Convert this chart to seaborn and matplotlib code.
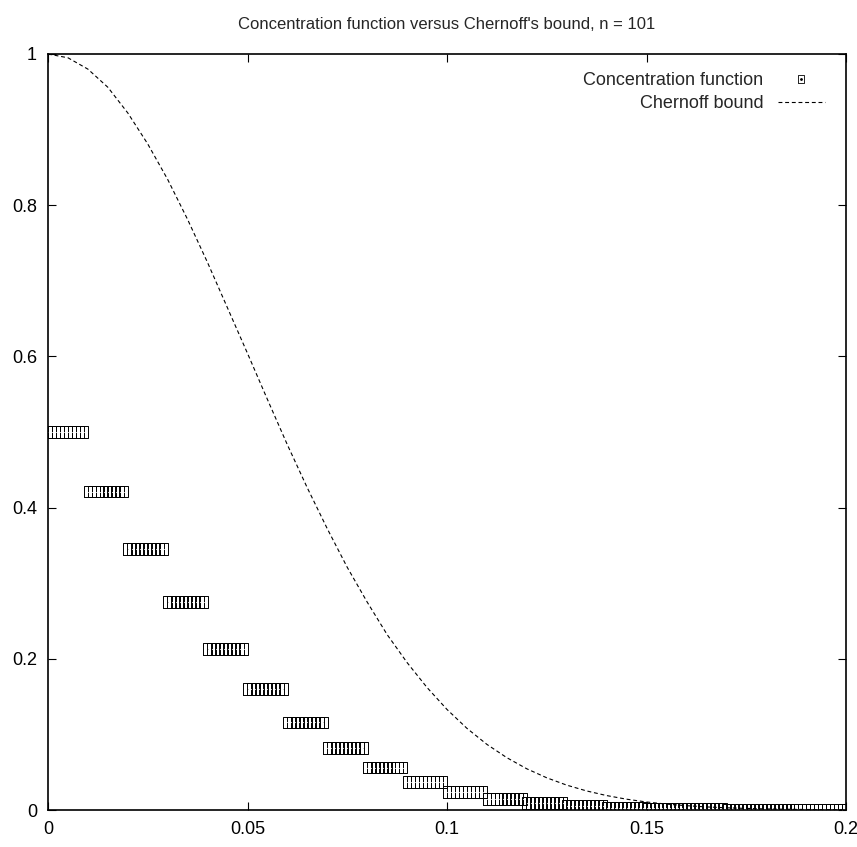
import numpy as np
import pandas as pd
import matplotlib
matplotlib.use("Agg")
import matplotlib.pyplot as plt
import seaborn as sns
from matplotlib.lines import Line2D

# concentration function: one level per 0.01 wide step, 10 points per step
step_levels = [0.500, 0.421, 0.345, 0.275, 0.213, 0.160, 0.116, 0.082, 0.056, 0.037,
               0.0237, 0.0148, 0.0090, 0.0054, 0.0032, 0.0020, 0.0013, 0.0009, 0.0007, 0.0006,
               0.0005]
points_per_step = 10
point_spacing = 0.001

# Chernoff bound read at every 0.005
chernoff_x = [0.000, 0.005, 0.010, 0.015, 0.020, 0.025, 0.030, 0.035, 0.040, 0.045,
              0.050, 0.055, 0.060, 0.065, 0.070, 0.075, 0.080, 0.085, 0.090, 0.095,
              0.100, 0.105, 0.110, 0.115, 0.120, 0.125, 0.130, 0.135, 0.140, 0.145,
              0.150, 0.155, 0.160, 0.165, 0.170, 0.175, 0.180, 0.185, 0.190, 0.195, 0.200]
chernoff_y = [1.000, 0.995, 0.980, 0.956, 0.922, 0.881, 0.834, 0.781, 0.724, 0.664,
              0.604, 0.543, 0.483, 0.426, 0.372, 0.321, 0.275, 0.232, 0.195, 0.162,
              0.133, 0.108, 0.0868, 0.0692, 0.0545, 0.0426, 0.0329, 0.0252, 0.0191, 0.0143,
              0.0106, 0.0078, 0.0057, 0.0041, 0.0029, 0.0021, 0.0014, 0.0010, 0.0007, 0.0005,
              0.0003]

x_ticks = [0, 0.05, 0.1, 0.15, 0.2]
x_labels = ["0", "0.05", "0.1", "0.15", "0.2"]
y_ticks = [0, 0.2, 0.4, 0.6, 0.8, 1]
y_labels = ["0", "0.2", "0.4", "0.6", "0.8", "1"]

# expand the steps into points (last level is the single point at 0.2)
conc_y = []
for i, lvl in enumerate(step_levels):
    n = points_per_step if i < len(step_levels) - 1 else 1
    conc_y += [lvl] * n
conc = pd.DataFrame({"x": np.arange(len(conc_y)) * point_spacing, "y": conc_y})
cher = pd.DataFrame({"x": chernoff_x, "y": chernoff_y})

# gnuplot box point is a bit taller than wide
rect = [(-0.38, -0.5), (0.38, -0.5), (0.38, 0.5), (-0.38, 0.5), (-0.38, -0.5)]

sns.set_style("ticks")
plt.rcParams["font.family"] = ["Liberation Sans Narrow", "Liberation Sans", "DejaVu Sans"]

fig = plt.figure(figsize=(8.57, 8.47), dpi=100)
ax = fig.add_axes([48 / 857, 37 / 847, 798 / 857, 756 / 847])

sns.lineplot(data=cher, x="x", y="y", ax=ax, color="black", lw=0.8,
             linestyle=(0, (3.5, 2.5)), label="Chernoff bound")
sns.scatterplot(data=conc, x="x", y="y", ax=ax, marker=rect, s=68,
                facecolor="none", edgecolor="black", linewidth=0.7, legend=False)
sns.scatterplot(data=conc, x="x", y="y", ax=ax, marker=".", s=2,
                color="black", linewidth=0, legend=False)

ax.set_xlim(0, 0.2)
ax.set_ylim(0, 1)
ax.set_xticks(x_ticks)
ax.set_xticklabels(x_labels)
ax.set_yticks(y_ticks)
ax.set_yticklabels(y_labels)
ax.set_xlabel("")
ax.set_ylabel("")
ax.tick_params(direction="in", length=6, width=0.8, top=True, right=True,
               labelsize=13, pad=8, colors="black")
for s in ax.spines.values():
    s.set_visible(True)
    s.set_linewidth(1.2)
    s.set_color("black")

ax.set_title("Concentration function versus Chernoff's bound, n = 101",
             fontsize=12, pad=18)

# legend in the gnuplot manner: text first, sample on the right
box = Line2D([], [], marker=rect, markersize=6, markerfacecolor="none",
             markeredgecolor="black", markeredgewidth=0.6, linestyle="none")
dot = Line2D([], [], marker=".", markersize=2, color="black", linestyle="none")
line = ax.get_lines()[0]
leg = ax.legend([(box, dot), line], ["Concentration function", "Chernoff bound"],
                loc="upper right", frameon=False, markerfirst=False, fontsize=13,
                handlelength=2.6, handletextpad=0.8, labelspacing=0.35,
                borderaxespad=0.6, bbox_to_anchor=(0.996, 1.0))
for t in leg.get_texts():
    t.set_ha("right")
leg._legend_box.align = "right"

fig.savefig("out.png", dpi=100)
